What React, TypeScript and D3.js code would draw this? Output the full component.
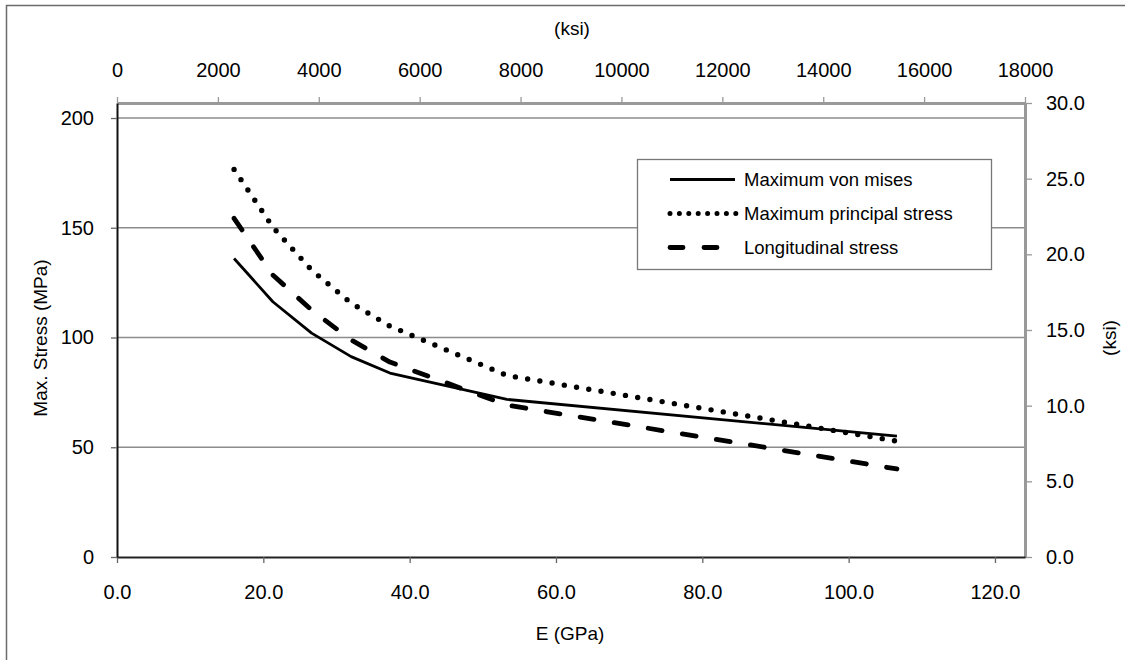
import React, { useEffect, useRef } from 'react';
import * as d3 from 'd3';

// E values (GPa) and max stresses (MPa)
const eGPa = [16.0, 21.3, 26.6, 32.0, 37.3, 53.3, 106.6];
const vonMises = [136.0, 116.3, 102.0, 91.3, 83.8, 71.8, 55.1];
const principal = [176.6, 150.3, 130.7, 115.7, 105.2, 82.7, 52.8];
const longitudinal = [154.3, 128.5, 112.5, 98.9, 88.8, 69.2, 40.1];

const gpaTicks = [0, 20, 40, 60, 80, 100, 120];
const ksiTopTicks = [0, 2000, 4000, 6000, 8000, 10000, 12000, 14000, 16000, 18000];
const mpaTicks = [0, 50, 100, 150, 200];
const ksiRightTicks = [0, 5, 10, 15, 20, 25, 30];

const seriesNames = ['Maximum von mises', 'Maximum principal stress', 'Longitudinal stress'];

const KSI_TO_MPA = 6.89476;

export default function App() {
  const ref = useRef<SVGSVGElement | null>(null);

  useEffect(() => {
    const W = 1125, H = 660;
    const left = 117, right = 1025, top = 103, bottom = 557;
    const font = "'Liberation Sans', Arial, sans-serif";

    const svg = d3.select(ref.current);
    svg.selectAll('*').remove();

    const ksiMax = 18000;
    const x = d3.scaleLinear().domain([0, ksiMax * KSI_TO_MPA / 1000]).range([left, right]);
    const xTop = d3.scaleLinear().domain([0, ksiMax]).range([left, right]);
    const y = d3.scaleLinear().domain([0, 30 * KSI_TO_MPA]).range([bottom, top]);
    const yRight = d3.scaleLinear().domain([0, 30]).range([bottom, top]);

    // outer frame
    svg.append('rect')
      .attr('x', 6.5).attr('y', 5.5)
      .attr('width', 1130).attr('height', 670)
      .attr('fill', 'white')
      .attr('stroke', '#6b6b6b')
      .attr('stroke-width', 1.5);

    // gridlines
    svg.append('g')
      .selectAll('line')
      .data(mpaTicks.filter(d => d > 0))
      .enter()
      .append('line')
        .attr('x1', left).attr('x2', right)
        .attr('y1', d => y(d)).attr('y2', d => y(d))
        .attr('stroke', '#8c8c8c')
        .attr('stroke-width', 1.3);

    const styleAxis = (g: any, color: string, width: number) => {
      g.select('.domain').attr('stroke', color).attr('stroke-width', width);
      g.selectAll('.tick line').attr('stroke', color).attr('stroke-width', 1.3);
      g.selectAll('.tick text')
        .attr('fill', '#000')
        .style('font-family', font)
        .style('font-size', '20px');
    };

    // top axis (ksi)
    const gTop = svg.append('g')
      .attr('transform', `translate(0,${top})`)
      .call(d3.axisTop(xTop).tickValues(ksiTopTicks).tickSize(6).tickSizeOuter(0).tickPadding(20).tickFormat(d3.format('d')));
    styleAxis(gTop, '#999', 3);

    // right axis (ksi)
    const gRight = svg.append('g')
      .attr('transform', `translate(${right},0)`)
      .call(d3.axisRight(yRight).tickValues(ksiRightTicks).tickSize(7).tickSizeOuter(0).tickPadding(14).tickFormat(d3.format('.1f')));
    styleAxis(gRight, '#999', 3);

    // bottom axis (GPa)
    const gBottom = svg.append('g')
      .attr('transform', `translate(0,${bottom})`)
      .call(d3.axisBottom(x).tickValues(gpaTicks).tickSize(6).tickSizeOuter(0).tickPadding(22).tickFormat(d3.format('.1f')));
    styleAxis(gBottom, '#222', 2);
    gBottom.selectAll('.tick line').attr('stroke', '#666');

    // left axis (MPa)
    const gLeft = svg.append('g')
      .attr('transform', `translate(${left},0)`)
      .call(d3.axisLeft(y).tickValues(mpaTicks).tickSize(6).tickSizeOuter(0).tickPadding(17).tickFormat(d3.format('d')));
    styleAxis(gLeft, '#111', 2);
    gLeft.selectAll('.tick line').attr('stroke', '#666');

    // axis titles
    const title = (tx: number, ty: number, text: string, rot = 0) =>
      svg.append('text')
        .attr('transform', `translate(${tx},${ty}) rotate(${rot})`)
        .attr('text-anchor', 'middle')
        .attr('dominant-baseline', 'central')
        .style('font-family', font)
        .style('font-size', '19px')
        .text(text);
    title(572, 28, '(ksi)');
    title(570, 633, 'E (GPa)');
    title(40, 338, 'Max. Stress (MPa)', -90);
    title(1109, 338, '(ksi)', -90);

    // series
    const styles = [
      { data: vonMises, width: 2.8, dash: null },
      { data: principal, width: 5.4, dash: '0 12.4' },
      { data: longitudinal, width: 4.8, dash: '14 20.5' },
    ];
    const line = d3.line<number>()
      .x((d, i) => x(eGPa[i]))
      .y(d => y(d));

    styles.forEach(s => {
      svg.append('path')
        .datum(s.data)
        .attr('d', line)
        .attr('fill', 'none')
        .attr('stroke', '#000')
        .attr('stroke-width', s.width)
        .attr('stroke-linecap', s.dash ? 'round' : 'butt')
        .attr('stroke-linejoin', 'round')
        .attr('stroke-dasharray', s.dash);
    });

    // legend
    const lg = svg.append('g');
    lg.append('rect')
      .attr('x', 637.5).attr('y', 159.5)
      .attr('width', 354).attr('height', 110)
      .attr('fill', 'white')
      .attr('stroke', '#777')
      .attr('stroke-width', 1.3);
    const legendDash = [null, '0 9.4', '13 21'];
    const legendWidth = [3, 5, 4.8];
    seriesNames.forEach((name, i) => {
      const ly = 179.5 + i * 34;
      lg.append('line')
        .attr('x1', 670).attr('x2', i === 0 ? 735 : (i === 1 ? 736 : 722))
        .attr('y1', ly).attr('y2', ly)
        .attr('stroke', '#000')
        .attr('stroke-width', legendWidth[i])
        .attr('stroke-linecap', legendDash[i] ? 'round' : 'butt')
        .attr('stroke-dasharray', legendDash[i]);
      lg.append('text')
        .attr('x', 744).attr('y', ly)
        .attr('dominant-baseline', 'central')
        .style('font-family', font)
        .style('font-size', '18.5px')
        .text(name);
    });

    svg.attr('width', W).attr('height', H);
  }, []);

  return (
    <svg ref={ref} width={1125} height={660}
      style={{ position: 'absolute', left: 0, top: 0, background: 'white' }} />
  );
}
